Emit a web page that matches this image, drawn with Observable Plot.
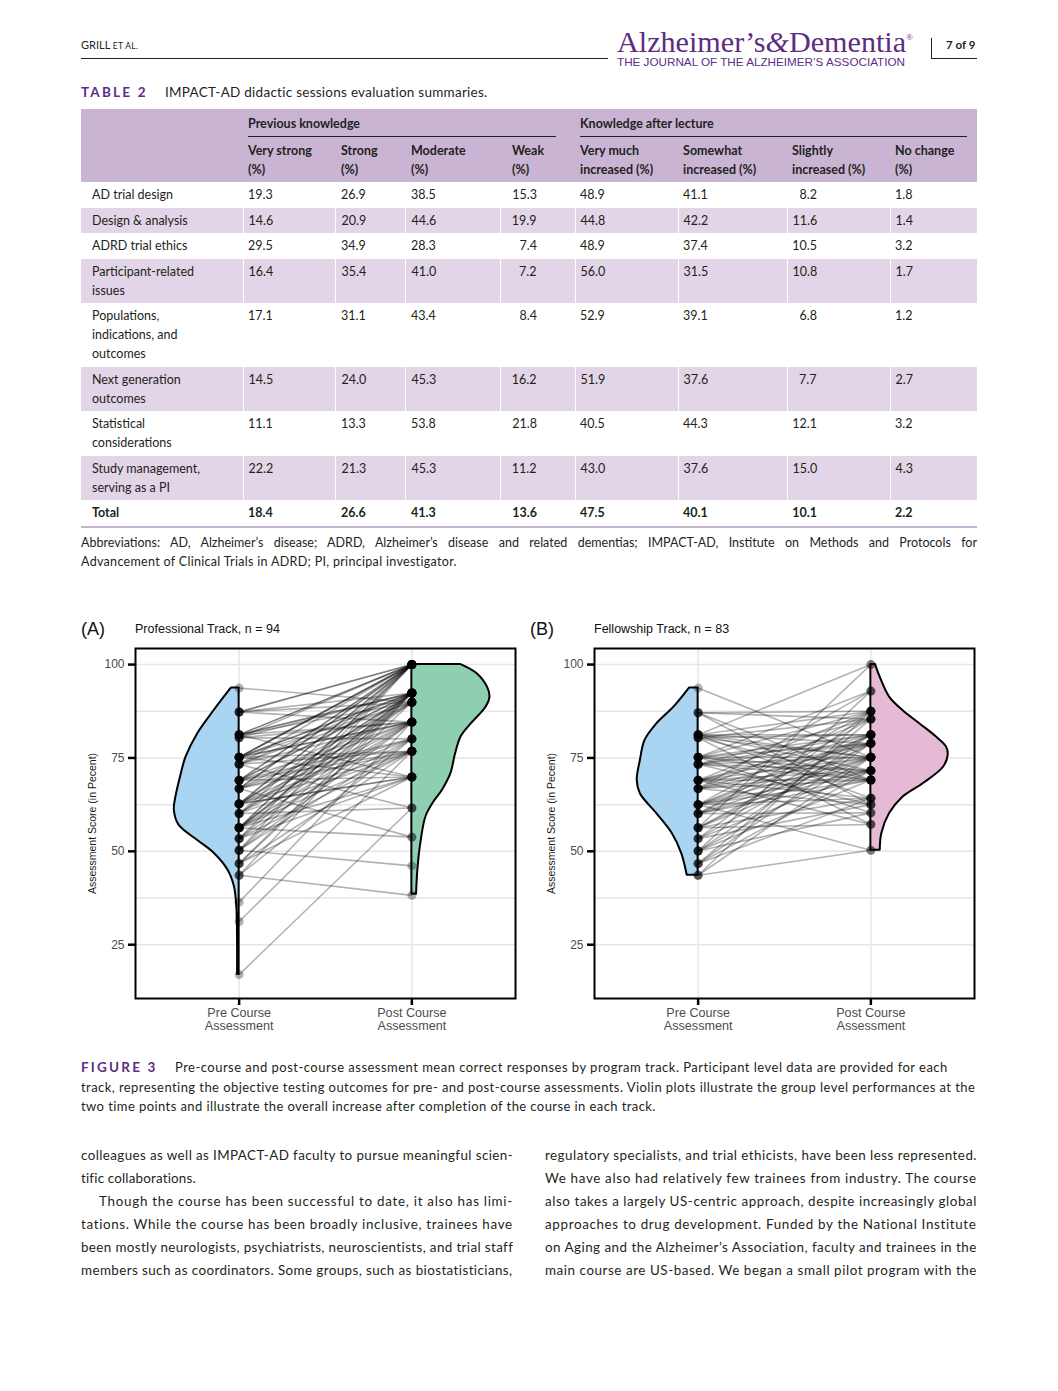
<!DOCTYPE html>
<html><head><meta charset="utf-8">
<script src="https://cdn.jsdelivr.net/npm/d3@7"></script>
<script src="https://cdn.jsdelivr.net/npm/@observablehq/plot@0.6"></script>
<style>
body{margin:0;background:#fff;}
#page{position:relative;width:1058px;height:1391px;overflow:hidden;font-family:Lato,"Noto Sans",sans-serif;color:#231f20;background:#fff;}
.abs{position:absolute;white-space:nowrap;}
table.t2{position:absolute;left:81px;top:109px;width:896px;border-collapse:collapse;table-layout:fixed;font-size:12.5px;line-height:19px;}
table.t2 td{vertical-align:top;padding:3.25px 0 3.25px 5px;white-space:pre;}
</style></head><body><div id="page"></div>
<script>
// ---------------- DATA ----------------
const tableTopics = ["AD trial design","Design & analysis","ADRD trial ethics","Participant-related\nissues","Populations,\nindications, and\noutcomes","Next generation\noutcomes","Statistical\nconsiderations","Study management,\nserving as a PI","Total"];
const groupHeaders = ["Previous knowledge","Knowledge after lecture"];
const columnHeaders = ["Very strong\n(%)","Strong\n(%)","Moderate\n(%)","Weak\n(%)","Very much\nincreased (%)","Somewhat\nincreased (%)","Slightly\nincreased (%)","No change\n(%)"];
const veryStrong = [19.3,14.6,29.5,16.4,17.1,14.5,11.1,22.2,18.4];
const strong     = [26.9,20.9,34.9,35.4,31.1,24.0,13.3,21.3,26.6];
const moderate   = [38.5,44.6,28.3,41.0,43.4,45.3,53.8,45.3,41.3];
const weak       = [15.3,19.9,7.4,7.2,8.4,16.2,21.8,11.2,13.6];
const veryMuch   = [48.9,44.8,48.9,56.0,52.9,51.9,40.5,43.0,47.5];
const somewhat   = [41.1,42.2,37.4,31.5,39.1,37.6,44.3,37.6,40.1];
const slightly   = [8.2,11.6,10.5,10.8,6.8,7.7,12.1,15.0,10.1];
const noChange   = [1.8,1.4,3.2,1.7,1.2,2.7,3.2,4.3,2.2];

const timePoints = ["Pre Course\nAssessment","Post Course\nAssessment"];
const yTicks = [25,50,75,100];
const yMinor = [37.5,62.5,87.5];
const yLabel = "Assessment Score (in Pecent)";

// Professional track (n = 94): pre / post score per participant
const preA = [93.7,
 87.3,87.3,87.3,87.3,87.3,
 81.2,81.2,81.2,81.2,81.2,81.2,81.2,
 80.4,80.4,80.4,80.4,
 75.2,75.2,75.2,75.2,75.2,75.2,75.2,75.2,75.2,75.2,
 73.3,73.3,73.3,73.3,73.3,73.3,
 69.0,69.0,69.0,69.0,69.0,69.0,69.0,69.0,
 66.8,66.8,66.8,66.8,66.8,66.8,66.8,
 62.7,62.7,62.7,62.7,62.7,62.7,62.7,62.7,62.7,62.7,
 60.1,60.1,60.1,60.1,60.1,60.1,
 56.3,56.3,56.3,56.3,56.3,56.3,56.3,56.3,56.3,56.3,
 53.4,53.4,53.4,53.4,53.4,
 50.3,50.3,50.3,50.3,50.3,
 46.7,46.7,46.7,46.7,
 43.6,43.6,43.6,
 36.4,31.2,17.0];
const postA = [89.9,
 100,100,92.4,84.6,89.9,
 100,100,92.4,92.4,89.9,84.6,69.9,
 100,92.4,84.6,80.1,
 100,100,100,92.4,92.4,89.9,84.6,84.6,76.8,69.9,
 100,92.4,89.9,84.6,76.8,61.6,
 100,100,92.4,92.4,84.6,80.1,76.8,69.9,
 100,100,89.9,84.6,80.1,76.8,53.8,
 100,100,92.4,92.4,89.9,84.6,80.1,76.8,69.9,69.9,
 100,92.4,89.9,84.6,76.8,61.6,
 100,100,92.4,92.4,89.9,84.6,80.1,76.8,69.9,53.8,
 100,92.4,84.6,76.8,69.9,
 100,92.4,84.6,80.1,46.1,
 92.4,89.9,76.8,69.9,
 92.4,80.1,38.2,
 84.6,76.8,61.6];
// Fellowship track (n = 83)
const preB = [93.7,
 87.1,87.1,87.1,87.1,
 81.2,81.2,81.2,81.2,81.2,81.2,81.2,
 80.4,80.4,80.4,80.4,80.4,
 75.2,75.2,75.2,75.2,75.2,75.2,75.2,75.2,
 73.3,73.3,73.3,73.3,73.3,73.3,73.3,
 69.0,69.0,69.0,69.0,69.0,69.0,69.0,69.0,
 66.8,66.8,66.8,66.8,66.8,66.8,66.8,
 62.5,62.5,62.5,62.5,62.5,62.5,62.5,62.5,
 60.1,60.1,60.1,60.1,60.1,60.1,
 56.3,56.3,56.3,56.3,56.3,56.3,
 53.4,53.4,53.4,53.4,
 50.1,50.1,50.1,50.1,50.1,
 46.7,46.7,46.7,46.7,
 43.6,43.6,43.6];
const postB = [75.2,
 87.5,85.4,69.1,62.5,
 100,87.5,81.2,78.9,75.2,71.6,64.2,
 85.4,81.2,75.2,69.1,57.2,
 92.9,87.5,81.2,78.9,75.2,71.6,69.1,60.3,
 85.4,81.2,78.9,75.2,71.6,69.1,62.5,
 87.5,81.2,78.9,75.2,69.1,71.6,64.2,57.2,
 92.9,85.4,78.9,75.2,71.6,69.1,62.5,
 87.5,81.2,78.9,75.2,71.6,69.1,64.2,50.3,
 85.4,81.2,75.2,71.6,69.1,60.3,
 100,81.2,78.9,75.2,64.2,57.2,
 87.5,78.9,71.6,62.5,
 92.9,81.2,75.2,69.1,60.3,
 85.4,78.9,71.6,64.2,
 87.5,75.2,50.3];

// violin density profiles: [score, relative density]
const violinPreA  = [[17.0,0.02],[25.0,0.02],[35.1,0.03],[40.5,0.06],[44.9,0.14],[49.5,0.32],[52.9,0.53],[57.0,0.77],[61.0,0.83],[64.5,0.81],[70.8,0.74],[75.2,0.68],[81.5,0.53],[87.7,0.32],[91.3,0.19],[93.7,0.10]];
const violinPostA = [[38.5,0.06],[45.8,0.08],[52.9,0.12],[59.2,0.18],[62.8,0.27],[66.3,0.39],[70.8,0.50],[76.1,0.56],[80.6,0.63],[84.1,0.76],[88.6,0.95],[91.3,1.00],[93.9,0.97],[97.5,0.84],[100,0.63]];
const violinPreB  = [[43.6,0.14],[49.4,0.21],[54.7,0.33],[60.1,0.53],[65.4,0.74],[69.0,0.78],[74.3,0.74],[79.7,0.68],[84.1,0.53],[88.6,0.31],[93.7,0.11]];
const violinPostB = [[50.3,0.12],[54.7,0.14],[60.1,0.24],[64.5,0.41],[68.1,0.67],[72.5,0.93],[75.7,0.99],[77.9,0.97],[80.6,0.84],[84.1,0.63],[87.7,0.41],[91.3,0.24],[96.6,0.12],[100,0.06]];

// ---------------- LAYOUT ----------------
const page = document.getElementById("page");
const PURPLE = "#5c2d82";
function txt(t, x, yc, o = {}) {
  const el = document.createElement("div");
  el.className = "abs";
  const lh = o.lh || 20;
  el.style.left = x + "px";
  el.style.top = (yc - lh / 2) + "px";
  el.style.lineHeight = lh + "px";
  el.style.fontSize = (o.size || 13) + "px";
  if (o.family) el.style.fontFamily = o.family;
  if (o.weight) el.style.fontWeight = o.weight;
  if (o.color) el.style.color = o.color;
  if (o.ls) el.style.letterSpacing = o.ls + "px";
  if (o.html) el.innerHTML = t; else el.textContent = t;
  page.appendChild(el);
  if (o.w) {
    const nat = el.getBoundingClientRect().width;
    if (o.fit === "scale") { el.style.transformOrigin = "left center"; el.style.transform = `scaleX(${o.w / nat})`; }
    else if (o.fit === "words") {
      const sp = (t.match(/ /g) || []).length;
      el.style.wordSpacing = ((o.w - nat) / sp) + "px";
    } else {
      const n = el.textContent.length;
      el.style.letterSpacing = ((o.w - nat) / n) + "px";
    }
  }
  return el;
}
function rule(x, y, w, h, c) {
  const el = document.createElement("div");
  el.className = "abs";
  Object.assign(el.style, {left: x + "px", top: y + "px", width: w + "px", height: h + "px", background: c});
  page.appendChild(el);
}

// Header
txt('GRILL <span style="font-size:8.5px;letter-spacing:0.3px">ET AL.</span>', 81, 45, {size: 11, html: true, color: "#231f20"});
rule(81, 58, 527, 1, "#231f20");
txt('Alzheimer’s<span style="font-style:italic">&amp;</span>Dementia<span style="font-size:9px;vertical-align:12px">®</span>', 617, 37, {size: 30, lh: 30, html: true, family: "'Liberation Serif', 'DejaVu Serif', serif", color: PURPLE, w: 296, fit: "scale"});
txt("THE JOURNAL OF THE ALZHEIMER’S ASSOCIATION", 617, 62, {size: 11, lh: 13, family: "'Liberation Sans', Arial, sans-serif", color: PURPLE, w: 288, fit: "scale"});
rule(931, 38, 1, 20, "#231f20");
rule(931, 58, 46, 1, "#231f20");
txt("7 of 9", 946, 45, {size: 11.5, weight: 700, color: "#231f20"});

// Table title
txt("TABLE 2", 81, 92, {size: 13.5, weight: 700, color: PURPLE, ls: 2.2});
txt("IMPACT-AD didactic sessions evaluation summaries.", 165, 92, {size: 13.5, w: 323});

// Table
(function buildTable() {
  const cols = [veryStrong, strong, moderate, weak, veryMuch, somewhat, slightly, noChange];
  const widths = [162, 92, 70, 95, 75, 103, 109, 103, 87];
  const padL = [11, 5, 6, 6, 12, 5, 5, 5, 5];
  const rightAligned = {3: 38, 6: 73};
  const HEAD = "#c9b4d4", SHADE = "#e1d5e7";
  let h = '<table class="t2"><colgroup>' + widths.map(w => `<col style="width:${w}px">`).join("") + "</colgroup>";
  h += `<tr style="background:${HEAD}"><td rowspan="2"></td>` +
    `<td colspan="4" style="padding:5px 0 0 5px"><div style="font-weight:700;padding-bottom:3px;border-bottom:1.4px solid #231f20;margin-right:19px">${groupHeaders[0]}</div></td>` +
    `<td colspan="4" style="padding:5px 0 0 5px"><div style="font-weight:700;padding-bottom:3px;border-bottom:1.4px solid #231f20;margin-right:10px">${groupHeaders[1]}</div></td></tr>`;
  h += `<tr style="background:${HEAD}">` + columnHeaders.map((c, i) => `<td style="padding:4px 0 3px ${padL[i + 1]}px;font-weight:700">${c}</td>`).join("") + "</tr>";
  tableTopics.forEach((lab, r) => {
    const shaded = r % 2 === 1;
    const bold = r === tableTopics.length - 1;
    h += `<tr style="background:${shaded ? SHADE : "#fff"};${bold ? "font-weight:700;" : ""}">`;
    h += `<td style="padding-left:${padL[0]}px">${lab.replace(/&/g, "&amp;")}</td>`;
    cols.forEach((c, i) => {
      const v = c[r].toFixed(1);
      const sep = shaded ? "border-left:1px solid #fff;" : "";
      if (rightAligned[i] !== undefined) h += `<td style="${sep}text-align:right;padding-right:${rightAligned[i]}px">${v}</td>`;
      else h += `<td style="${sep}padding-left:${padL[i + 1]}px">${v}</td>`;
    });
    h += "</tr>";
  });
  h += "</table>";
  const wrap = document.createElement("div");
  wrap.innerHTML = h;
  page.appendChild(wrap.firstChild);
  const t = page.querySelector("table.t2");
  const b = t.getBoundingClientRect();
  rule(81, b.bottom, 896, 2, "#c4b3cc");
})();

txt("Abbreviations: AD, Alzheimer’s disease; ADRD, Alzheimer’s disease and related dementias; IMPACT-AD, Institute on Methods and Protocols for", 81, 543, {size: 12.5, w: 896, fit: "words"});
txt("Advancement of Clinical Trials in ADRD; PI, principal investigator.", 81, 562, {size: 12.5, w: 376});

// Figure panel titles
const SANS = "'Liberation Sans', Arial, sans-serif";
txt("(A)", 81, 629, {size: 18, family: SANS, color: "#111"});
txt("Professional Track, n = 94", 135, 629, {size: 12.5, family: SANS, color: "#111"});
txt("(B)", 530, 629, {size: 18, family: SANS, color: "#111"});
txt("Fellowship Track, n = 83", 594, 629, {size: 12.5, family: SANS, color: "#111"});

// ---------------- PLOTS ----------------
const HW = 0.452;
function violinPanel(pre, post, vPre, vPost, preFill, postFill) {
  const pairs = pre.map((p, i) => ({pre: p, post: post[i]}));
  const pv = vPre.map(([v, d]) => ({v, a: 1, b: 1 - d * HW}));
  const qv = vPost.map(([v, d]) => ({v, a: 2, b: 2 + d * HW}));
  return Plot.plot({
    width: 440, height: 398,
    marginLeft: 54, marginRight: 6, marginTop: 8, marginBottom: 40,
    x: {domain: [0.4, 2.6]},
    y: {domain: [10.6, 104.3]},
    style: {fontFamily: SANS, background: "transparent", overflow: "visible"},
    marks: [
      Plot.gridY(yTicks.concat(yMinor), {stroke: "#e6e6e6", strokeOpacity: 1, strokeWidth: 1.5}),
      Plot.gridX([1, 2], {stroke: "#e6e6e6", strokeOpacity: 1, strokeWidth: 1.5}),
      Plot.areaX(pv, {y: "v", x1: "a", x2: "b", fill: preFill, stroke: "black", strokeWidth: 2, strokeLinejoin: "round", curve: "catmull-rom"}),
      Plot.areaX(qv, {y: "v", x1: "a", x2: "b", fill: postFill, stroke: "black", strokeWidth: 2, strokeLinejoin: "round", curve: "catmull-rom"}),
      Plot.link(pairs, {x1: () => 1, y1: "pre", x2: () => 2, y2: "post", stroke: "black", strokeOpacity: 0.3, strokeWidth: 1.6}),
      Plot.dot(pairs, {x: () => 1, y: "pre", r: 4.5, fill: "black", fillOpacity: 0.3}),
      Plot.dot(pairs, {x: () => 2, y: "post", r: 4.5, fill: "black", fillOpacity: 0.3}),
      Plot.frame({stroke: "black", strokeWidth: 2}),
      Plot.axisY(yTicks, {tickSize: 7, tickPadding: 4, strokeWidth: 2.5, stroke: "black", fill: "#4d4d4d", fontSize: 12, label: null}),
      Plot.axisX([1, 2], {tickSize: 7, tickPadding: 2, strokeWidth: 2.5, stroke: "black", fill: "#4d4d4d", fontSize: 12.6, lineHeight: 1.05, label: null, tickFormat: d => timePoints[d - 1]}),
      Plot.text([yLabel], {text: d => d, frameAnchor: "left", rotate: -90, textAnchor: "middle", dx: -43, fontSize: 10.5, fill: "#1a1a1a"})
    ]
  });
}
function place(svg, x, y) {
  svg.style.position = "absolute";
  svg.style.left = x + "px";
  svg.style.top = y + "px";
  page.appendChild(svg);
}
place(violinPanel(preA, postA, violinPreA, violinPostA, "#a9d5f2", "#8fcfb1"), 81, 640);
place(violinPanel(preB, postB, violinPreB, violinPostB, "#a9d5f2", "#e6b9d4"), 540, 640);

// Figure caption
txt("FIGURE 3", 81, 1067, {size: 13.5, weight: 700, color: PURPLE, ls: 2.2});
txt("Pre-course and post-course assessment mean correct responses by program track. Participant level data are provided for each", 175, 1067, {size: 13, w: 773});
txt("track, representing the objective testing outcomes for pre- and post-course assessments. Violin plots illustrate the group level performances at the", 81, 1087, {size: 13, w: 895});
txt("two time points and illustrate the overall increase after completion of the course in each track.", 81, 1106, {size: 13, w: 575});

// Body text
const leftCol = [
  ["colleagues as well as IMPACT-AD faculty to pursue meaningful scien-", 81, 432],
  ["tific collaborations.", 81, 115],
  ["Though the course has been successful to date, it also has limi-", 99, 414],
  ["tations. While the course has been broadly inclusive, trainees have", 81, 432],
  ["been mostly neurologists, psychiatrists, neuroscientists, and trial staff", 81, 432],
  ["members such as coordinators. Some groups, such as biostatisticians,", 81, 432]
];
const rightCol = [
  "regulatory specialists, and trial ethicists, have been less represented.",
  "We have also had relatively few trainees from industry. The course",
  "also takes a largely US-centric approach, despite increasingly global",
  "approaches to drug development. Funded by the National Institute",
  "on Aging and the Alzheimer’s Association, faculty and trainees in the",
  "main course are US-based. We began a small pilot program with the"
];
leftCol.forEach(([t, x, w], i) => txt(t, x, 1155 + 23 * i, {size: 13.4, w}));
rightCol.forEach((t, i) => txt(t, 545, 1155 + 23 * i, {size: 13.4, w: 432}));
</script></body></html>
